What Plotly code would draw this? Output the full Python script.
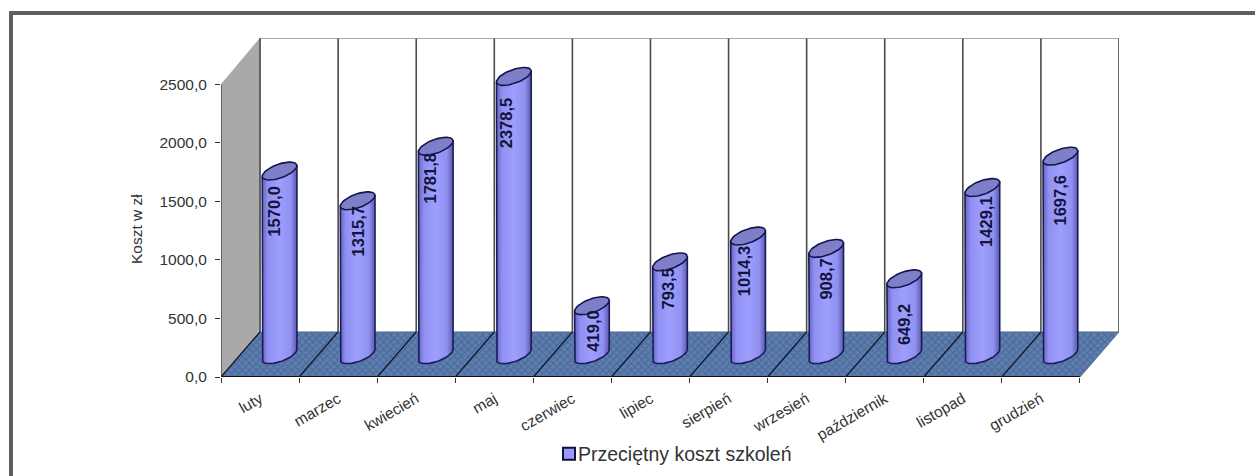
import numpy as np
import plotly.graph_objects as go

categories = ["luty", "marzec", "kwiecień", "maj", "czerwiec", "lipiec", "sierpień",
              "wrzesień", "październik", "listopad", "grudzień"]
values = [1570.0, 1315.7, 1781.8, 2378.5, 419.0, 793.5, 1014.3, 908.7, 649.2, 1429.1, 1697.6]
series_name = "Przeciętny koszt szkoleń"
y_ticks = [0, 500, 1000, 1500, 2000, 2500]

# geometry / style (not data)
PX_X, PX_Y = 78.1, 0.117
DEPTH_X, DEPTH_Y = 0.5, 385
Y_TOP = 2897
CYL_X, CYL_Y = 0.25, 190
A, B, TH = 18.3, 6.8, np.radians(20)
label_dx = [-6, 0, -6, -7, 1, -2.5, -4, 0, 0, 3, 0]
label_dy = [41, 31, 32.5, 47, 25, 27, 35, 31, 46, 34, 44]
FONT = "Liberation Sans"
n = len(categories)
X0, X1 = -0.5, n - 0.5

def comma(v, d=1):
    return f"{v:.{d}f}".replace(".", ",")

def ell(t):
    return (A*np.cos(t)*np.cos(TH) - B*np.sin(t)*np.sin(TH),
            A*np.cos(t)*np.sin(TH) + B*np.sin(t)*np.cos(TH))

fig = go.Figure()

def deco(x, y, **kw):
    kw.setdefault("mode", "lines")
    fig.add_trace(go.Scatter(x=x, y=y, showlegend=False, hoverinfo="skip", **kw))

# left wall
deco([X0, X0+DEPTH_X, X0+DEPTH_X, X0, X0], [0, DEPTH_Y, Y_TOP, 2500, 0], fill="toself",
     fillcolor="#A9A9A9", line=dict(color="#A9A9A9", width=0.5))
# back wall grid
gx, gy = [], []
for i in range(n + 1):
    gx += [X0+DEPTH_X+i, X0+DEPTH_X+i, None]
    gy += [DEPTH_Y, Y_TOP, None]
deco(gx, gy, line=dict(color="#4A4A4A", width=1.6))
deco([X0+DEPTH_X, X1+DEPTH_X], [Y_TOP, Y_TOP], line=dict(color="#8C8C8C", width=1.5))
# floor
deco([X0, X1, X1+DEPTH_X, X0+DEPTH_X, X0], [0, 0, DEPTH_Y, DEPTH_Y, 0], fill="toself",
     fillcolor="#4F719F",
     fillpattern=dict(shape="x", size=5, solidity=0.4, bgcolor="#5E7FAE", fgcolor="#34548A"),
     line=dict(color="#5A6E8C", width=1))
fx, fy = [], []
for i in range(n):
    fx += [X0+i, X0+DEPTH_X+i, None]
    fy += [0, DEPTH_Y, None]
deco(fx, fy, line=dict(color="#10182C", width=1.3))
# axis lines
deco([X0, X1], [0, 0], line=dict(color="#111111", width=2.2))
deco([X0, X0], [0, 2500], line=dict(color="#333333", width=1.2))

# value-carrying bars (the round cylinder surface is drawn over them)
fig.add_trace(go.Bar(x=[i+CYL_X for i in range(n)], y=values, base=[CYL_Y]*n, width=0.33,
                     name=series_name, marker=dict(color="#9999FF", line=dict(color="#10103C", width=2)),
                     showlegend=True, hovertext=categories, hoverinfo="text+y"))

tR = np.arctan2(-B*np.sin(TH), A*np.cos(TH))
tL = tR + np.pi
low = np.linspace(tL, tR + 2*np.pi, 40)
full = np.linspace(0, 2*np.pi, 60)
for i, v in enumerate(values):
    cx, cb, ct = i + CYL_X, CYL_Y, CYL_Y + v
    dxl, dyl = ell(low)
    dxL, dyL = ell(np.array([tL]))
    dxR, dyR = ell(np.array([tR]))
    xs = np.concatenate([cx + dxL/PX_X, cx + dxl/PX_X, cx + dxR/PX_X, cx + dxL/PX_X])
    ys = np.concatenate([ct + dyL/PX_Y, cb + dyl/PX_Y, ct + dyR/PX_Y, ct + dyL/PX_Y])
    deco(xs, ys, fill="toself", line=dict(color="#1B1B5A", width=1.6),
         fillgradient=dict(type="horizontal", colorscale=[
             [0, "#6464BE"], [0.16, "#9090F2"], [0.5, "#9E9EFF"], [0.82, "#9090F0"], [1, "#5A5AAE"]]))
    dxf, dyf = ell(full)
    deco(cx + dxf/PX_X, ct + dyf/PX_Y, fill="toself", fillcolor="#7F7FC9",
         line=dict(color="#15154F", width=1.6))

annotations = []
for i, v in enumerate(values):
    annotations.append(dict(x=i+CYL_X, y=CYL_Y+v, xref="x", yref="y", text=f"<b>{comma(v)}</b>", showarrow=False,
                            textangle=-90, xshift=label_dx[i], yshift=-label_dy[i],
                            xanchor="center", yanchor="middle",
                            font=dict(family=FONT, size=16.5, color="#14143A")))
PL, PR, PT, PB = 221, 136, 38, 99
W, H = 1255 - PL - PR, 476 - PT - PB
annotations.append(dict(x=(136 - PL)/W, y=(476 - PB - 229)/H, xref="paper", yref="paper", text="Koszt w zł",
                        xanchor="center", yanchor="middle",
                        showarrow=False, textangle=-90, font=dict(family=FONT, size=15.5, color="#333333")))

fig.update_layout(
    width=1255, height=476, autosize=False,
    margin=dict(l=PL, r=PR, t=PT, b=PB, pad=0, autoexpand=False),
    paper_bgcolor="white", plot_bgcolor="white",
    barmode="overlay", hovermode="closest",
    font=dict(family=FONT, color="#333333"),
    annotations=annotations,
    showlegend=True,
    legend=dict(x=(538 - PL)/W, y=(476 - PB - 454)/H, xanchor="left", yanchor="middle",
                font=dict(family=FONT, size=19.5, color="#333333"), bgcolor="rgba(0,0,0,0)"),
    shapes=[
        dict(type="line", xref="paper", yref="paper", x0=(9-PL)/W, x1=(1255-PL)/W,
             y0=(476-PB-13)/H, y1=(476-PB-13)/H, line=dict(color="#5F5F5F", width=4)),
        dict(type="line", xref="paper", yref="paper", x0=(11-PL)/W, x1=(11-PL)/W,
             y0=(476-PB-11)/H, y1=(476-PB-476)/H, line=dict(color="#5F5F5F", width=4)),
    ],
    xaxis=dict(range=[X0, X1+DEPTH_X], tickmode="array", tickvals=list(range(n)), ticktext=categories,
               tickangle=-30, ticks="outside", ticklen=6, tickcolor="rgba(0,0,0,0)",
               tickfont=dict(family=FONT, size=15.5, color="#333333"),
               showgrid=False, zeroline=False, showline=False,
               minor=dict(tickmode="array", tickvals=[i-0.5 for i in range(n+1)], ticks="outside",
                          ticklen=5, tickcolor="#333333", tickwidth=1, showgrid=False)),
    yaxis=dict(range=[0, Y_TOP], tickmode="array", tickvals=y_ticks, ticktext=[comma(t) for t in y_ticks],
               ticks="outside", ticklen=5, tickcolor="#333333", ticklabelstandoff=5,
               tickfont=dict(family=FONT, size=15.5, color="#333333"),
               showgrid=False, zeroline=False, showline=False),
)
post = ("document.body.style.margin='0';"
        "document.querySelectorAll('.legend .legendsymbols').forEach(function(g){g.style.transform='translateX(11px)';});")
fig.write_html("out.html", post_script=post, config={"displayModeBar": False})
